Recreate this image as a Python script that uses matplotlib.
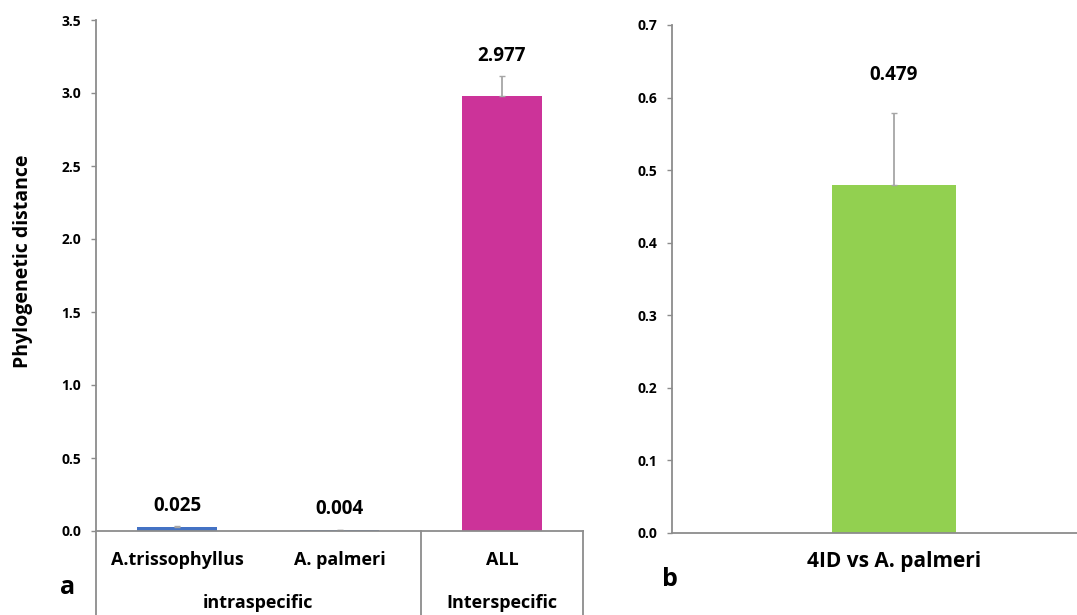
import matplotlib
matplotlib.use("Agg")
import matplotlib.pyplot as plt
from matplotlib.lines import Line2D

plt.rcParams['font.family'] = ['Open Sans', 'DejaVu Sans']
plt.rcParams['font.weight'] = 'bold'

# Panel a: within- and between-species distances
cats_a = ["A.trissophyllus", "A. palmeri", "ALL"]
groups_a = ["intraspecific", "Interspecific"]
vals_a = [0.025, 0.004, 2.977]
errs_a = [0.008, 0.004, 0.14]
colors_a = ["#4472C4", "#4472C4", "#CC3399"]
yticks_a = [0.0, 0.5, 1.0, 1.5, 2.0, 2.5, 3.0, 3.5]

# Panel b: 4ID against A. palmeri
cats_b = ["4ID vs A. palmeri"]
vals_b = [0.479]
errs_b = [0.10]
colors_b = ["#92D050"]
yticks_b = [0.0, 0.1, 0.2, 0.3, 0.4, 0.5, 0.6, 0.7]

W, H = 1077, 615
AXIS_GREY = "#8C8C8C"
ERR_GREY = "#A6A6A6"

fig = plt.figure(figsize=(W / 100, H / 100), dpi=100)


def style_axes(ax, ticks, fmt):
    for s in ("top", "right"):
        ax.spines[s].set_visible(False)
    for s in ("left", "bottom"):
        ax.spines[s].set_color(AXIS_GREY)
        ax.spines[s].set_linewidth(1.3)
    ax.set_yticks(ticks)
    ax.set_yticklabels([fmt.format(t) for t in ticks], fontsize=10, fontweight='bold')
    ax.tick_params(axis='y', direction='out', length=3.6, width=1.0, color=AXIS_GREY, pad=7)
    ax.set_xticks([])


# ---- panel a ----
ax_a = fig.add_axes([96 / W, (H - 531) / H, (583 - 96) / W, (531 - 20) / H])
xa = list(range(len(cats_a)))
ax_a.bar(xa, vals_a, width=0.49, color=colors_a,
         yerr=[[0] * len(errs_a), errs_a],
         error_kw=dict(ecolor=ERR_GREY, elinewidth=1.3, capsize=2.5, capthick=1.0))
ax_a.set_xlim(-0.5, 2.5)
ax_a.set_ylim(0, 3.5)
style_axes(ax_a, yticks_a, "{:.1f}")

for x, v, e in zip(xa, vals_a, errs_a):
    ax_a.annotate(f"{v:.3f}", xy=(x, v + e), xytext=(0, 7.5), textcoords='offset points',
                  ha='center', va='bottom', fontsize=13.5, fontweight='bold')

# category box below the axis
tr = ax_a.get_xaxis_transform()
for xb in (-0.5, 1.5, 2.5):
    ax_a.add_line(Line2D([xb, xb], [0, -0.3], transform=tr, color=AXIS_GREY,
                         lw=1.3, clip_on=False))
for x, c in zip(xa, cats_a):
    ax_a.text(x, -0.057, c, transform=tr, ha='center', va='center',
              fontsize=13, fontweight='bold')
ax_a.text(0.5, -0.141, groups_a[0], transform=tr, ha='center', va='center',
          fontsize=13, fontweight='bold')
ax_a.text(2.0, -0.141, groups_a[1], transform=tr, ha='center', va='center',
          fontsize=13, fontweight='bold')

fig.text(23 / W, 1 - 261 / H, "Phylogenetic distance", rotation=90,
         ha='center', va='center', fontsize=14, fontweight='bold')
fig.text(68 / W, 1 - 588 / H, "a", ha='center', va='center', fontsize=18, fontweight='bold')

# ---- panel b ----
full_w = 2 * (894 - 672)
ax_b = fig.add_axes([672 / W, (H - 533) / H, (W - 672) / W, (533 - 25) / H])
xb_pos = list(range(len(cats_b)))
ax_b.bar(xb_pos, vals_b, width=124 / full_w, color=colors_b,
         yerr=[[0] * len(errs_b), errs_b],
         error_kw=dict(ecolor=ERR_GREY, elinewidth=1.3, capsize=2.5, capthick=1.0))
ax_b.set_xlim(-0.5, -0.5 + (W - 672) / full_w)
ax_b.set_ylim(0, 0.7)
style_axes(ax_b, yticks_b, "{:.1f}")

for x, v, e in zip(xb_pos, vals_b, errs_b):
    ax_b.annotate(f"{v:.3f}", xy=(x, v + e), xytext=(0, 20), textcoords='offset points',
                  ha='center', va='bottom', fontsize=13.5, fontweight='bold')

trb = ax_b.get_xaxis_transform()
for x, c in zip(xb_pos, cats_b):
    ax_b.text(x, -0.057, c, transform=trb, ha='center', va='center',
              fontsize=15, fontweight='bold')
fig.text(670 / W, 1 - 580 / H, "b", ha='center', va='center', fontsize=18, fontweight='bold')

fig.savefig("out.png", dpi=100)
